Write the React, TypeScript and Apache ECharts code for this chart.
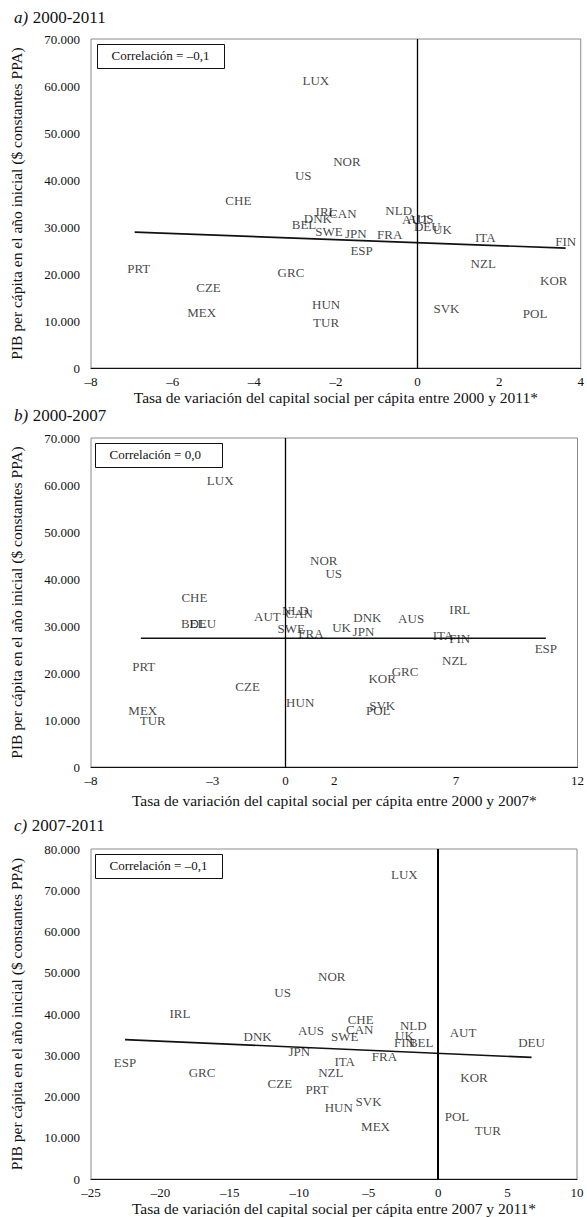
import React, { useEffect, useRef } from "react";
import * as echarts from "echarts";

// ---------- Data ----------
const countriesA = ["LUX","NOR","US","CHE","IRL","DNK","CAN","BEL","SWE","JPN","FRA","ESP","NLD","AUT","AUS","DEU","UK","ITA","FIN","NZL","KOR","PRT","CZE","MEX","GRC","HUN","TUR","SVK","POL"];
const xA = [-2.49,-1.73,-2.8,-4.39,-2.24,-2.44,-1.83,-2.78,-2.17,-1.51,-0.68,-1.37,-0.46,-0.05,0.07,0.24,0.61,1.66,3.63,1.61,3.34,-6.83,-5.12,-5.29,-3.1,-2.24,-2.24,0.71,2.88];
const yA = [61100,44000,40900,35700,33400,31900,32800,30600,29100,28700,28500,25100,33600,31500,31900,30200,29400,27700,27000,22300,18700,21100,17200,11900,20400,13600,9600,12600,11700];
const trendAx = [-6.93, 3.63];
const trendAy = [28900, 25500];

const countriesB = ["LUX","CHE","BEL","DEU","AUT","PRT","CZE","MEX","TUR","NLD","CAN","SWE","FRA","NOR","US","UK","DNK","JPN","AUS","IRL","ITA","FIN","ESP","NZL","GRC","KOR","HUN","SVK","POL"];
const xB = [-2.69,-3.75,-3.8,-3.4,-0.75,-5.83,-1.56,-5.87,-5.46,0.4,0.56,0.23,1.04,1.57,1.98,2.3,3.36,3.2,5.16,7.16,6.47,7.16,10.7,6.95,4.91,3.97,0.6,3.97,3.81];
const yB = [60900,36000,30600,30600,32000,21300,17200,12100,9800,33400,32600,29400,28500,44000,41100,29600,31900,28900,31500,33600,27900,27400,25300,22600,20400,18900,13800,13000,12000];
const trendBx = [-5.95, 10.7];
const trendBy = [27400, 27400];

const countriesC = ["ESP","IRL","GRC","DNK","US","CZE","LUX","NOR","AUS","JPN","CHE","CAN","SWE","ITA","NZL","PRT","HUN","SVK","MEX","FRA","NLD","UK","FIN","BEL","AUT","DEU","KOR","POL","TUR"];
const xC = [-22.55,-18.6,-17.0,-13.0,-11.2,-11.4,-2.43,-7.66,-9.16,-10.0,-5.58,-5.65,-6.73,-6.73,-7.73,-8.73,-7.16,-5.01,-4.51,-3.87,-1.79,-2.43,-2.43,-1.22,1.79,6.73,2.58,1.36,3.58];
const yC = [28300,40100,25800,34500,45200,23200,73900,49000,36000,30900,38600,36200,34500,28500,25800,21700,17400,18800,12800,29700,37200,34800,33100,33100,35500,33100,24600,15200,11800];
const trendCx = [-22.55, 6.73];
const trendCy = [33800, 29500];

const panelTitles = [["a)", "2000-2011"], ["b)", "2000-2007"], ["c)", "2007-2011"]];
const xTitles = [
  "Tasa de variación del capital social per cápita entre 2000 y 2011*",
  "Tasa de variación del capital social per cápita entre 2000 y 2007*",
  "Tasa de variación del capital social per cápita entre 2007 y 2011*",
];
const correlations = ["Correlación = \u20130,1", "Correlación = 0,0", "Correlación = \u20130,1"];
const yTitle = "PIB per cápita en el año inicial ($ constantes PPA)";

const xRanges = [
  { min: -8, max: 4, interval: 2 },
  { min: -8, max: 12, interval: 5 },
  { min: -25, max: 10, interval: 5 },
];
const xLabelValuesB = [-8, -3, 0, 2, 7, 12];
const yMaxes = [70000, 70000, 80000];

// ---------- Layout ----------
const FONT = "'Liberation Serif', 'DejaVu Serif', serif";
const TXT = "#111";
const grids = [
  { left: 90, top: 39, width: 491, height: 329 },
  { left: 88, top: 438, width: 491, height: 329 },
  { left: 88, top: 849, width: 489, height: 331 },
];
const titleTops = [3, 401, 811];
const xNameGaps = [21, 25, 19];
const zeroLineWidths = [1.3, 1.3, 2];

function fmtX(v: number) {
  return v < 0 ? "\u2013" + Math.abs(v) : String(v);
}
function fmtY(v: number) {
  return v === 0 ? "0" : v / 1000 + ".000";
}

export default function App() {
  const ref = useRef<HTMLDivElement>(null);
  useEffect(() => {
    if (!ref.current) return;
    const chart = echarts.init(ref.current, null, { renderer: "svg" });
    const sets = [
      { names: countriesA, xs: xA, ys: yA, tx: trendAx, ty: trendAy },
      { names: countriesB, xs: xB, ys: yB, tx: trendBx, ty: trendBy },
      { names: countriesC, xs: xC, ys: yC, tx: trendCx, ty: trendCy },
    ];
    const series: any[] = [];
    sets.forEach((s, i) => {
      series.push({
        type: "scatter",
        xAxisIndex: i,
        yAxisIndex: i,
        symbolSize: 0,
        data: s.names.map((n, k) => ({ name: n, value: [s.xs[k], s.ys[k]] })),
        label: {
          show: true,
          position: "inside",
          formatter: "{b}",
          color: TXT,
          fontFamily: FONT,
          fontSize: 13,
        },
        markLine: {
          silent: true,
          symbol: "none",
          label: { show: false },
          lineStyle: { color: "#000", width: zeroLineWidths[i], type: "solid" },
          data: [{ xAxis: 0 }],
        },
        z: 3,
      });
      series.push({
        type: "line",
        xAxisIndex: i,
        yAxisIndex: i,
        showSymbol: false,
        symbol: "none",
        data: [[s.tx[0], s.ty[0]], [s.tx[1], s.ty[1]]],
        lineStyle: { color: "#111", width: 1.6 },
        z: 2,
      });
    });

    const option: any = {
      animation: false,
      backgroundColor: "#fff",
      textStyle: { fontFamily: FONT },
      title: panelTitles.map((t, i) => ({
        left: 9,
        top: titleTops[i],
        text: `{i|${t[0]}} {n|${t[1]}}`,
        textStyle: {
          fontWeight: "normal",
          rich: {
            i: { fontFamily: FONT, fontStyle: "italic", fontWeight: "normal", fontSize: 17, color: TXT },
            n: { fontFamily: FONT, fontWeight: "normal", fontSize: 17, color: TXT },
          },
        },
      })),
      grid: grids.map((g) => ({
        ...g,
        show: true,
        borderColor: "#8a8a8a",
        borderWidth: 1,
        containLabel: false,
      })),
      xAxis: xRanges.map((r, i) => ({
        type: "value",
        gridIndex: i,
        min: r.min,
        max: r.max,
        interval: r.interval,
        splitLine: { show: false },
        axisTick: { show: false },
        axisLine: { show: true, onZero: false, lineStyle: { color: "#111", width: 1.2 } },
        axisLabel: {
          color: TXT,
          fontFamily: FONT,
          fontSize: 13,
          margin: 7,
          formatter: (v: number) => fmtX(v),
          ...(i === 1 ? { customValues: xLabelValuesB } : {}),
        },
        name: xTitles[i],
        nameLocation: "middle",
        nameGap: xNameGaps[i],
        nameTextStyle: { color: TXT, fontFamily: FONT, fontSize: 15.5 },
      })),
      yAxis: yMaxes.map((m, i) => ({
        type: "value",
        gridIndex: i,
        min: 0,
        max: m,
        interval: 10000,
        splitLine: { show: false },
        axisTick: { show: false },
        axisLine: { show: false },
        axisLabel: {
          color: TXT,
          fontFamily: FONT,
          fontSize: 13,
          margin: 11,
          formatter: (v: number) => fmtY(v),
        },
        name: yTitle,
        nameLocation: "middle",
        nameGap: 67,
        nameRotate: 90,
        nameTextStyle: { color: TXT, fontFamily: FONT, fontSize: 15.5 },
      })),
      graphic: grids.flatMap((g, i) => [
        {
          type: "rect",
          left: g.left + 7,
          top: g.top + 5,
          shape: { width: 127, height: 24 },
          style: { fill: "#fff", stroke: "#111", lineWidth: 1 },
          z: 10,
        },
        {
          type: "text",
          left: g.left + 7 + 63.5 - 49,
          top: g.top + 10,
          style: {
            text: correlations[i],
            fill: TXT,
            font: `13px ${FONT}`,
          },
          z: 11,
        },
      ]),
      series,
    };
    chart.setOption(option);
    return () => chart.dispose();
  }, []);
  return (
    <div
      ref={ref}
      style={{ position: "absolute", left: 0, top: 0, width: 587, height: 1217, background: "#fff" }}
    />
  );
}
